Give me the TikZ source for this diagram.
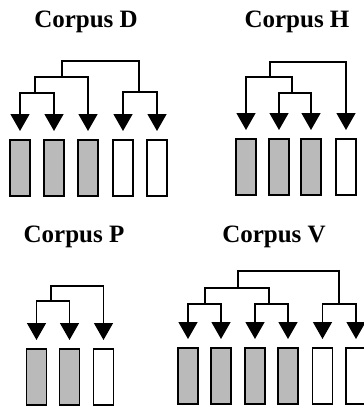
\documentclass[tikz,border=0pt]{standalone}
\usepackage{fontspec}
\setmainfont{Liberation Serif}
\usetikzlibrary{arrows.meta}

\tikzset{
  title/.style={anchor=base, inner sep=0pt,
    font=\fontsize{25}{25}\selectfont\bfseries},
  bar/.style={draw, line width=1.7pt, rectangle, anchor=north,
    minimum width=20pt, minimum height=56pt, inner sep=0pt},
  fullbar/.style={bar, fill=black!27},
  emptybar/.style={bar, fill=white},
  link/.style={line width=1.4pt},
  arr/.style={link, shorten >=8pt,
    -{Triangle[width=19pt,length=17pt]}},
}

\begin{document}
\begin{tikzpicture}[x=1pt, y=-1pt]
\useasboundingbox (0,0) rectangle (364,407);

% ---------------- Corpus D ----------------
\node[title] (Dt) at (86,27) {Corpus D};
\node[fullbar]  (D1) at (20,139) {};
\node[fullbar]  (D2) at (54,139) {};
\node[fullbar]  (D3) at (88,139) {};
\node[emptybar] (D4) at (123,139) {};
\node[emptybar] (D5) at (157,139) {};
\coordinate (Dj1) at (35,93);
\coordinate (Dj2) at (62,77);
\coordinate (Dj3) at (139,92);
\coordinate (Dr)  at (100,61);
\draw[link] (Dr) -| (Dj2);
\draw[link] (Dr) -| (Dj3);
\draw[link] (Dj2) -| (Dj1);
\draw[arr] (Dj1) -| (D1.north);
\draw[arr] (Dj1) -| (D2.north);
\draw[arr] (Dj2) -| (D3.north);
\draw[arr] (Dj3) -| (D4.north);
\draw[arr] (Dj3) -| (D5.north);

% ---------------- Corpus H ----------------
\node[title] (Ht) at (297,27) {Corpus H};
\node[fullbar]  (H1) at (246,138) {};
\node[fullbar]  (H2) at (279,138) {};
\node[fullbar]  (H3) at (311,138) {};
\node[emptybar] (H4) at (346,138) {};
\coordinate (Hj1) at (292,93);
\coordinate (Hj2) at (270,77);
\coordinate (Hr)  at (305,62);
\draw[link] (Hr) -| (Hj2);
\draw[link] (Hj2) -| (Hj1);
\draw[arr] (Hr) -| (H4.north);
\draw[arr] (Hj2) -| (H1.north);
\draw[arr] (Hj1) -| (H2.north);
\draw[arr] (Hj1) -| (H3.north);

% ---------------- Corpus P ----------------
\node[title] (Pt) at (74,242) {Corpus P};
\node[fullbar]  (P1) at (36.5,348) {};
\node[fullbar]  (P2) at (69.5,348) {};
\node[emptybar] (P3) at (103.5,348) {};
\coordinate (Pj1) at (51,301);
\coordinate (Pr)  at (76,286);
\draw[link] (Pr) -| (Pj1);
\draw[arr] (Pr) -| (P3.north);
\draw[arr] (Pj1) -| (P1.north);
\draw[arr] (Pj1) -| (P2.north);

% ---------------- Corpus V ----------------
\node[title] (Vt) at (274,242) {Corpus V};
\node[fullbar]  (V1) at (188,347) {};
\node[fullbar]  (V2) at (221,347) {};
\node[fullbar]  (V3) at (255,347) {};
\node[fullbar]  (V4) at (288,347) {};
\node[emptybar] (V5) at (322.5,347) {};
\node[emptybar] (V6) at (356,347) {};
\coordinate (Vj1) at (205,304);
\coordinate (Vj2) at (269,304);
\coordinate (Vj3) at (238,288);
\coordinate (Vj4) at (339,304);
\coordinate (Vr)  at (290,271);
\draw[link] (Vr) -| (Vj3);
\draw[link] (Vr) -| (Vj4);
\draw[link] (Vj3) -| (Vj1);
\draw[link] (Vj3) -| (Vj2);
\draw[arr] (Vj1) -| (V1.north);
\draw[arr] (Vj1) -| (V2.north);
\draw[arr] (Vj2) -| (V3.north);
\draw[arr] (Vj2) -| (V4.north);
\draw[arr] (Vj4) -| (V5.north);
\draw[arr] (Vj4) -| (V6.north);
\end{tikzpicture}
\end{document}
